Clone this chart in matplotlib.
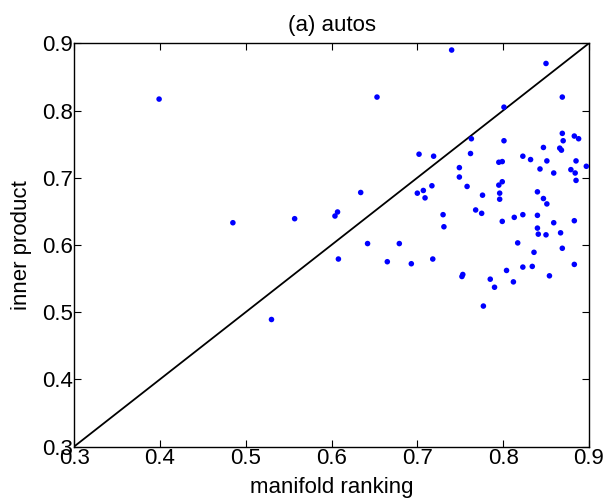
import matplotlib
matplotlib.use("Agg")
import matplotlib.pyplot as plt

plt.rcParams['font.family'] = ['Liberation Sans', 'DejaVu Sans']

manifold_ranking = [
    0.399, 0.485, 0.557, 0.604, 0.607, 0.608, 0.642, 0.665, 0.530,
    0.740, 0.850, 0.653, 0.869, 0.801, 0.869, 0.883, 0.888, 0.870,
    0.763, 0.801, 0.847, 0.866, 0.868, 0.702, 0.719, 0.762, 0.823,
    0.832, 0.795, 0.799, 0.851, 0.885, 0.897, 0.749, 0.843, 0.879,
    0.884, 0.859, 0.749, 0.885, 0.717, 0.758, 0.795, 0.799, 0.634,
    0.700, 0.707, 0.709, 0.776, 0.796, 0.796, 0.840, 0.847, 0.851,
    0.768, 0.775, 0.799, 0.813, 0.823, 0.840, 0.883, 0.859, 0.840,
    0.841, 0.850, 0.867, 0.817, 0.836, 0.869, 0.883, 0.804, 0.823,
    0.834, 0.854, 0.785, 0.812, 0.790, 0.777, 0.730, 0.731, 0.679,
    0.693, 0.718, 0.752, 0.753,
]
inner_product = [
    0.817, 0.633, 0.639, 0.643, 0.649, 0.579, 0.602, 0.575, 0.489,
    0.890, 0.870, 0.820, 0.820, 0.805, 0.766, 0.762, 0.758, 0.755,
    0.758, 0.755, 0.745, 0.744, 0.741, 0.735, 0.732, 0.736, 0.732,
    0.727, 0.723, 0.724, 0.725, 0.725, 0.717, 0.715, 0.713, 0.712,
    0.707, 0.707, 0.701, 0.696, 0.688, 0.687, 0.689, 0.694, 0.678,
    0.677, 0.681, 0.670, 0.674, 0.677, 0.668, 0.679, 0.669, 0.661,
    0.652, 0.647, 0.635, 0.641, 0.645, 0.644, 0.636, 0.633, 0.625,
    0.616, 0.615, 0.618, 0.603, 0.589, 0.595, 0.571, 0.562, 0.567,
    0.568, 0.554, 0.549, 0.545, 0.537, 0.509, 0.645, 0.627, 0.602,
    0.572, 0.579, 0.553, 0.556,
]
diagonal = [0.3, 0.9]
ticks = [0.3, 0.4, 0.5, 0.6, 0.7, 0.8, 0.9]
tick_labels = ['0.3', '0.4', '0.5', '0.6', '0.7', '0.8', '0.9']

fig = plt.figure(figsize=(6.04, 5.03), dpi=100)
ax = fig.add_axes([0.1228, 0.1123, 0.8522, 0.8016])
ax.plot(diagonal, diagonal, color='black', linewidth=1.3)
ax.scatter(manifold_ranking, inner_product, s=16, color='#0000ff', edgecolors='none', zorder=3)
ax.set_xlim(0.3, 0.9)
ax.set_ylim(0.3, 0.9)
ax.set_xticks(ticks)
ax.set_xticklabels(tick_labels)
ax.set_yticks(ticks)
ax.set_yticklabels(tick_labels)
ax.tick_params(direction='in', top=True, right=True, length=5, width=0.8,
               labelsize=16, pad=1)
for s in ax.spines.values():
    s.set_linewidth(1.0)
ax.set_xlabel('manifold ranking', fontsize=16, labelpad=6)
ax.set_ylabel('inner product', fontsize=16, labelpad=7)
ax.set_title('(a) autos', fontsize=16, pad=9)
fig.savefig('out.png', dpi=100)
